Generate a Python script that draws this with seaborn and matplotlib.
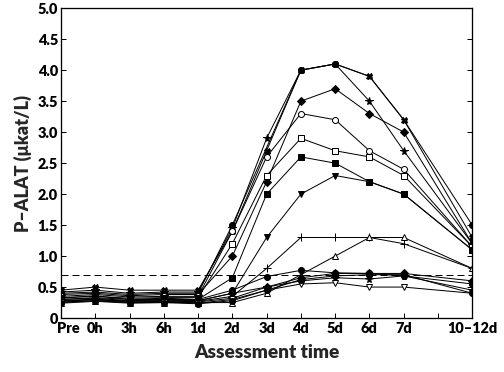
import numpy as np
import pandas as pd
import matplotlib
matplotlib.use("Agg")
import matplotlib.pyplot as plt
import matplotlib.transforms as mtransforms
import seaborn as sns

# time points and their positions on the x axis (gap before 10-12d)
time_labels = ["Pre", "0h", "3h", "6h", "1d", "2d", "3d", "4d", "5d", "6d", "7d", "10–12d"]
time_pos = [0, 1, 2, 3, 4, 5, 6, 7, 8, 9, 10, 12]

# P-ALAT per patient (µkat/L)
p_cross = [0.45, 0.50, 0.45, 0.45, 0.45, 1.40, 2.70, 4.00, 4.10, 3.90, 3.20, 1.30]
p_star = [0.42, 0.45, 0.40, 0.42, 0.42, 1.45, 2.90, 4.00, 4.10, 3.50, 2.70, 1.20]
p_circ_hi = [0.40, 0.42, 0.38, 0.40, 0.40, 1.50, 2.75, 4.00, 4.10, 3.90, 3.20, 1.50]
p_diam_hi = [0.38, 0.40, 0.36, 0.38, 0.38, 1.00, 2.20, 3.50, 3.70, 3.30, 3.00, 1.20]
p_ocirc = [0.35, 0.38, 0.34, 0.35, 0.35, 1.40, 2.60, 3.30, 3.20, 2.70, 2.40, 1.15]
p_osq = [0.33, 0.35, 0.32, 0.33, 0.33, 1.20, 2.30, 2.90, 2.70, 2.60, 2.30, 1.15]
p_sq = [0.30, 0.33, 0.30, 0.30, 0.30, 0.65, 2.00, 2.60, 2.50, 2.20, 2.00, 1.10]
p_tdown = [0.28, 0.30, 0.28, 0.28, 0.28, 0.40, 1.30, 2.00, 2.30, 2.20, 2.00, 1.10]
p_plus = [0.27, 0.30, 0.26, 0.27, 0.27, 0.35, 0.80, 1.30, 1.30, 1.30, 1.20, 0.80]
p_otri = [0.25, 0.28, 0.25, 0.25, 0.25, 0.25, 0.40, 0.70, 1.00, 1.30, 1.30, 0.80]
p_circ_lo = [0.32, 0.36, 0.30, 0.32, 0.30, 0.45, 0.67, 0.77, 0.73, 0.72, 0.68, 0.55]
p_diam_lo = [0.30, 0.32, 0.28, 0.30, 0.28, 0.40, 0.50, 0.65, 0.72, 0.72, 0.72, 0.60]
p_star_lo = [0.28, 0.30, 0.27, 0.28, 0.26, 0.32, 0.50, 0.60, 0.65, 0.63, 0.68, 0.45]
p_otdown = [0.26, 0.28, 0.25, 0.26, 0.24, 0.30, 0.45, 0.55, 0.57, 0.50, 0.50, 0.40]
p_circ_lo2 = [0.24, 0.27, 0.24, 0.25, 0.23, 0.28, 0.45, 0.62, 0.68, 0.70, 0.70, 0.40]

# (values, marker, face colour, which points carry a marker)
series = [
    (p_circ_hi, "o", "black", [0, 1, 2, 3, 4, 5, 7, 8, 11]),
    (p_cross, "X", "black", None),
    (p_star, "*", "black", [0, 1, 2, 3, 4, 5, 6, 9, 10, 11]),
    (p_diam_hi, "D", "black", None),
    (p_ocirc, "o", "white", None),
    (p_osq, "s", "white", None),
    (p_sq, "s", "black", None),
    (p_tdown, "v", "black", None),
    (p_plus, "+", "black", None),
    (p_otri, "^", "white", None),
    (p_circ_lo, "o", "black", None),
    (p_diam_lo, "D", "black", None),
    (p_star_lo, "*", "black", None),
    (p_otdown, "v", "white", None),
    (p_circ_lo2, "o", "black", None),
]

sns.set_theme(style="ticks")
plt.rcParams['font.family'] = ['Lato', 'DejaVu Sans']

fig = plt.figure(figsize=(7, 372 / 72), dpi=72)
ax = fig.add_axes([0.121, 0.145, 0.816, 0.833])

for vals, mk, fc, every in series:
    df = pd.DataFrame({"t": time_pos, "v": vals})
    size = 6 if mk not in ("*", "+") else 8
    if mk == "D":
        size = 5
    sns.lineplot(data=df, x="t", y="v", ax=ax, color="black", linewidth=1,
                 marker=mk, markersize=size, markerfacecolor=fc,
                 markeredgecolor="black", markeredgewidth=1, markevery=every)

ax.axhline(0.7, color="black", linewidth=1, linestyle=(0, (7, 4)))

ax.set_xlim(0, 12)
ax.set_ylim(0, 5)
ax.set_xticks(list(range(13)))
ax.set_xticklabels([time_labels[time_pos.index(i)] if i in time_pos else "" for i in range(13)])
yt = np.arange(0, 5.01, 0.5)
ax.set_yticks(yt)
ax.set_yticklabels(["0"] + [f"{v:.1f}" for v in yt[1:]])

ax.tick_params(axis="both", direction="in", length=5, width=1, labelsize=14.5, colors="black")
ax.tick_params(axis="y", right=True, pad=3)
ax.tick_params(axis="x", pad=4)
for lab in ax.get_xticklabels() + ax.get_yticklabels():
    lab.set_fontweight("heavy")
# nudge "Pre" right so it clears the corner
pre = ax.get_xticklabels()[0]
pre.set_transform(pre.get_transform() + mtransforms.ScaledTranslation(7 / 72, 0, fig.dpi_scale_trans))

for s in ax.spines.values():
    s.set_linewidth(1.3)
    s.set_color("black")

ax.set_xlabel("Assessment time", fontsize=19, fontweight="heavy", labelpad=9)
ax.set_ylabel("P–ALAT (μkat/L)", fontsize=18, fontweight="heavy", labelpad=5)

fig.savefig("out.png", dpi=72)
